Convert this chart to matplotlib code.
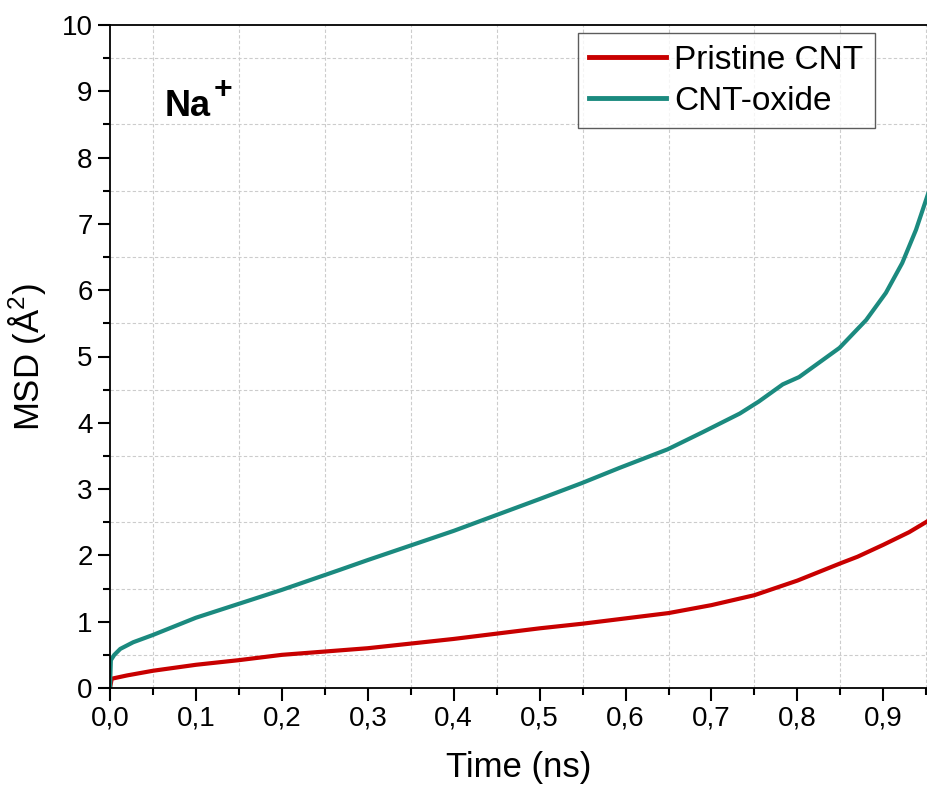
import matplotlib
matplotlib.use("Agg")
import matplotlib.pyplot as plt
from matplotlib.ticker import MultipleLocator, FuncFormatter

plt.rcParams['font.family'] = ['Liberation Sans', 'DejaVu Sans']
plt.rcParams['mathtext.fontset'] = 'custom'
plt.rcParams['mathtext.rm'] = 'Liberation Sans'
plt.rcParams['mathtext.bf'] = 'Liberation Sans:bold'

# data
time_pristine = [0.0, 0.002, 0.02, 0.05, 0.1, 0.15, 0.2, 0.25, 0.3, 0.35, 0.4, 0.45,
                 0.5, 0.55, 0.6, 0.65, 0.7, 0.75, 0.8, 0.85, 0.87, 0.9, 0.93, 0.952]
msd_pristine = [0.0, 0.14, 0.19, 0.26, 0.35, 0.42, 0.5, 0.55, 0.6, 0.67, 0.74, 0.82,
                0.9, 0.97, 1.05, 1.13, 1.25, 1.4, 1.62, 1.88, 1.98, 2.16, 2.35, 2.52]

time_oxide = [0.0, 0.001, 0.005, 0.012, 0.027, 0.05, 0.1, 0.15, 0.2, 0.267, 0.3, 0.35,
              0.4, 0.45, 0.5, 0.549, 0.593, 0.649, 0.69, 0.733, 0.755, 0.783, 0.802,
              0.849, 0.88, 0.903, 0.922, 0.938, 0.952]
msd_oxide = [0.0, 0.42, 0.5, 0.59, 0.69, 0.8, 1.06, 1.27, 1.48, 1.78, 1.93, 2.15,
             2.37, 2.61, 2.85, 3.09, 3.32, 3.6, 3.86, 4.14, 4.32, 4.58, 4.69,
             5.13, 5.55, 5.96, 6.41, 6.91, 7.45]

labels = ["Pristine CNT", "CNT-oxide"]
colors = ["#C80000", "#1B8A7F"]

W, H = 928, 796
fig = plt.figure(figsize=(W / 100, H / 100), dpi=100)
ax = fig.add_axes([110 / W, 1 - 688 / H, 1 - 110 / W, (688 - 25) / H])

ax.plot(time_pristine, msd_pristine, color=colors[0], lw=3, label=labels[0])
ax.plot(time_oxide, msd_oxide, color=colors[1], lw=3, label=labels[1])

ax.set_xlim(0, 0.952)
ax.set_ylim(0, 10)
ax.xaxis.set_major_locator(MultipleLocator(0.1))
ax.xaxis.set_minor_locator(MultipleLocator(0.05))
ax.yaxis.set_major_locator(MultipleLocator(1))
ax.yaxis.set_minor_locator(MultipleLocator(0.5))
ax.xaxis.set_major_formatter(FuncFormatter(lambda v, p: f"{v:.1f}".replace(".", ",")))

ax.grid(which='minor', ls='--', color='#CCCCCC', lw=0.8, dashes=(3, 2))
ax.grid(which='major', visible=False)

for s in ax.spines.values():
    s.set_linewidth(1.3)
ax.spines['right'].set_visible(False)

ax.tick_params(which='major', length=9, width=1.5, labelsize=20, direction='out')
ax.tick_params(which='minor', length=5, width=1.5, direction='out')

ax.set_xlabel("Time (ns)", fontsize=25, labelpad=14)
ax.set_ylabel("MSD (Å$^2$)", fontsize=25, labelpad=10)

# Na+ label, "+" drawn as a raised bold sign
fig.text(165 / W, 1 - 116 / H, "Na", fontsize=26, fontweight='bold', ha='left', va='baseline')
fig.text(214 / W, 1 - 98 / H, "+", fontsize=23, fontweight='bold', ha='left', va='baseline')

leg = ax.legend(loc='upper right', bbox_to_anchor=(875 / W, 1 - 33 / H),
                bbox_transform=fig.transFigure, fontsize=24,
                frameon=True, fancybox=False, handlelength=2.3, handletextpad=0.25,
                borderpad=0.35, labelspacing=0.3, borderaxespad=0)
leg.get_frame().set_edgecolor('#333333')
leg.get_frame().set_linewidth(1.0)
for line in leg.get_lines():
    line.set_linewidth(3.5)

fig.savefig("out.png", dpi=100)
